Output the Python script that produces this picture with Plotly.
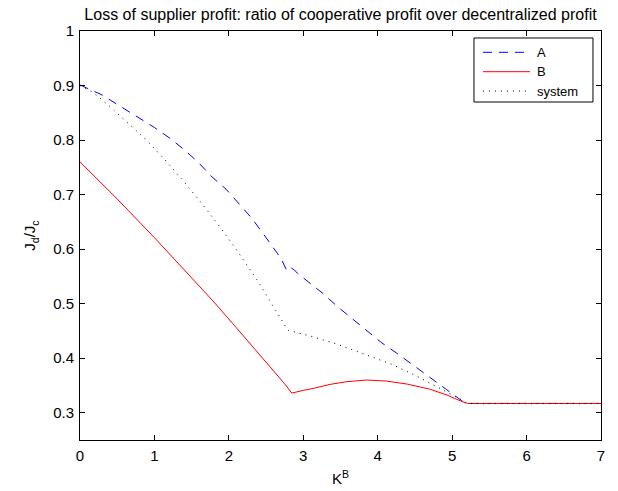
import plotly.graph_objects as go

# ---- data ----
a_x = [0.0, 0.293, 0.517, 0.762, 1.0, 1.211, 1.403, 1.591, 1.761, 1.962, 2.128, 2.306, 2.463,
       2.62, 2.70, 2.77, 2.80, 2.83, 2.88, 2.92, 3.07, 3.27, 3.46, 3.654, 3.855, 4.056, 4.258,
       4.47, 4.668, 4.92, 5.13, 5.205, 6.0, 7.0]
a_y = [0.901, 0.883, 0.864, 0.8435, 0.823, 0.803, 0.782, 0.759, 0.734, 0.710, 0.684, 0.657, 0.628,
       0.598, 0.583, 0.563, 0.561, 0.566, 0.562, 0.556, 0.539, 0.518, 0.4945, 0.4725, 0.450, 0.428,
       0.409, 0.3875, 0.367, 0.343, 0.322, 0.317, 0.317, 0.317]

b_x = [0.0, 0.5, 1.0, 1.4, 1.8, 2.1, 2.4, 2.6, 2.75, 2.846, 2.9, 3.0, 3.14, 3.36, 3.587, 3.855,
       4.12, 4.39, 4.705, 4.93, 5.107, 5.205, 6.0, 7.0]
b_y = [0.760, 0.692, 0.621, 0.563, 0.503, 0.456, 0.409, 0.377, 0.353, 0.336, 0.338, 0.341, 0.3448,
       0.352, 0.357, 0.360, 0.358, 0.3527, 0.343, 0.3325, 0.322, 0.317, 0.317, 0.317]

s_x = [0.0, 0.181, 0.396, 0.607, 0.866, 1.134, 1.389, 1.635, 1.868, 2.091, 2.262, 2.373, 2.574,
       2.664, 2.776, 2.80, 2.91, 3.094, 3.46, 3.819, 4.19, 4.526, 4.883, 5.15, 5.205, 6.0, 7.0]
s_y = [0.900, 0.887, 0.862, 0.836, 0.8035, 0.765, 0.725, 0.684, 0.643, 0.601, 0.567, 0.5447, 0.500,
       0.479, 0.455, 0.451, 0.447, 0.4407, 0.4255, 0.4077, 0.3888, 0.367, 0.3417, 0.322, 0.317, 0.317, 0.317]

series_names = ["A", "B", "system"]

x_ticks = [0, 1, 2, 3, 4, 5, 6, 7]
y_ticks = [0.3, 0.4, 0.5, 0.6, 0.7, 0.8, 0.9, 1.0]
y_tick_text = ["0.3", "0.4", "0.5", "0.6", "0.7", "0.8", "0.9", "1"]

title_text = "Loss of supplier profit: ratio of cooperative profit over decentralized profit"

FONT = "Liberation Sans, Arial, Helvetica, sans-serif"

styles = [
    dict(color="rgb(0,0,255)", width=1, dash="9px,7px"),
    dict(color="rgb(255,0,0)", width=1),
    dict(color="black", width=1, dash="1px,5px"),
]

fig = go.Figure()
for xs, ys, name, st in zip([a_x, b_x, s_x], [a_y, b_y, s_y], series_names, styles):
    fig.add_trace(go.Scatter(x=xs, y=ys, mode="lines", name=name, line=st, showlegend=False,
                             hoverinfo="skip"))

axis_common = dict(showgrid=False, zeroline=False, showline=True, linecolor="black", linewidth=1,
                   mirror="ticks", ticks="inside", ticklen=5, tickcolor="black", tickwidth=1,
                   automargin=False,
                   tickfont=dict(family=FONT, size=15, color="black"))

# ---- legend drawn as a box in paper coordinates ----
shapes = [dict(type="rect", xref="paper", yref="paper", x0=0.7562, x1=0.9846, y0=0.8264, y1=0.9829,
               line=dict(color="black", width=1), fillcolor="white", layer="above")]
annotations = []
entry_y = [0.9479, 0.9005, 0.8533]
for name, st, ey in zip(series_names, styles, entry_y):
    shapes.append(dict(type="line", xref="paper", yref="paper", x0=0.7735, x1=0.8637, y0=ey, y1=ey,
                       line=st, layer="above"))
    annotations.append(dict(text=name, xref="paper", yref="paper", x=0.8733, y=ey,
                            xanchor="left", yanchor="middle", showarrow=False,
                            font=dict(family=FONT, size=13, color="black")))

fig.update_layout(
    width=618, height=491,
    paper_bgcolor="white", plot_bgcolor="white",
    margin=dict(l=80, r=17, t=31, b=51),
    font=dict(family=FONT, size=15, color="black"),
    title=dict(text=title_text, x=0.5, xref="paper", y=1 - 14 / 491, yref="container",
               yanchor="middle", font=dict(family=FONT, size=16, color="black")),
    xaxis=dict(range=[0, 7], tickvals=x_ticks, ticklabelstandoff=2,
               title=dict(text="K<sup>B</sup>", standoff=10, font=dict(family=FONT, size=15)),
               **axis_common),
    yaxis=dict(range=[0.25, 1], tickvals=y_ticks, ticktext=y_tick_text, ticklabelstandoff=2,
               title=dict(text="J<sub>d</sub>/J<sub>c</sub>", standoff=13, font=dict(family=FONT, size=15)),
               **axis_common),
    showlegend=False,
    hovermode=False,
    shapes=shapes,
    annotations=annotations,
)

fig.write_html("out.html", config={"displayModeBar": False, "staticPlot": True},
               post_script="document.body.style.margin='0px';document.body.style.padding='0px';")
